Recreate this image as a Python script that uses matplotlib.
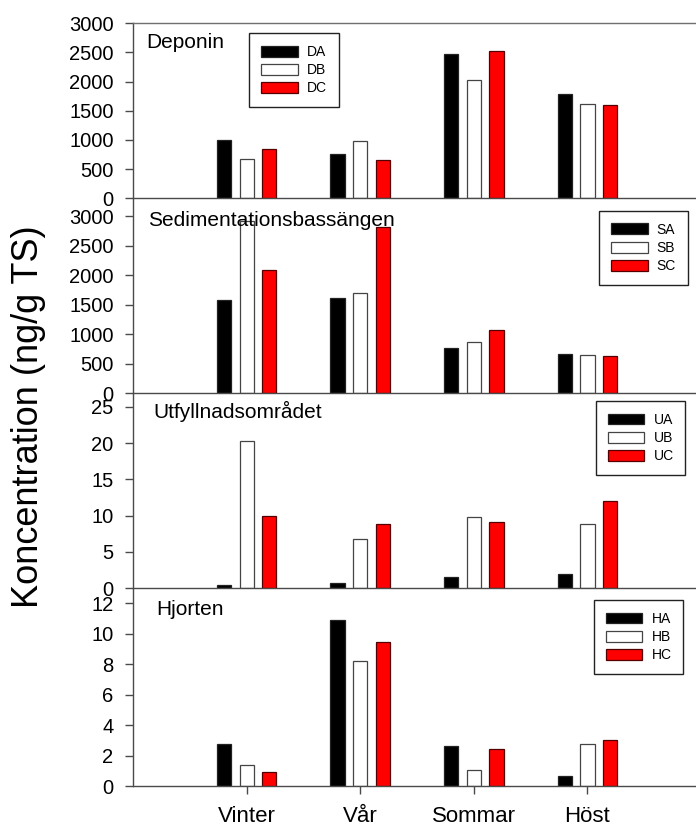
import matplotlib
matplotlib.use('Agg')
import matplotlib.pyplot as plt
import numpy as np

plt.rcParams['font.family'] = ['Liberation Sans', 'DejaVu Sans']

seasons = ['Vinter', 'Vår', 'Sommar', 'Höst']

deponin_labels = ['DA', 'DB', 'DC']
deponin_A = [1000, 766, 2474, 1789]
deponin_B = [669, 977, 2023, 1617]
deponin_C = [846, 651, 2526, 1606]

sediment_labels = ['SA', 'SB', 'SC']
sediment_A = [1579, 1619, 767, 660]
sediment_B = [2921, 1692, 869, 654]
sediment_C = [2087, 2809, 1066, 626]

utfyll_labels = ['UA', 'UB', 'UC']
utfyll_A = [0.5, 0.73, 1.56, 1.97]
utfyll_B = [20.3, 6.74, 9.77, 8.8]
utfyll_C = [10.0, 8.8, 9.17, 11.97]

hjorten_labels = ['HA', 'HB', 'HC']
hjorten_A = [2.77, 10.87, 2.62, 0.68]
hjorten_B = [1.35, 8.23, 1.03, 2.73]
hjorten_C = [0.89, 9.43, 2.4, 2.99]

titles = ['Deponin', 'Sedimentationsbassängen', 'Utfyllnadsområdet', 'Hjorten']
ylabel = 'Koncentration (ng/g TS)'

W, H = 696, 827
fig = plt.figure(figsize=(W / 100, H / 100), dpi=100)

# pixel layout (top, bottom) of each panel
panels_px = [(23.3, 198.3), (198.3, 393.3), (393.3, 588.3), (588.3, 786.0)]
ylims = [(0, 3000), (0, 3300), (0, 26.85), (0, 12.97)]
yticks = [np.arange(0, 3001, 500), np.arange(0, 3001, 500),
          np.arange(0, 26, 5), np.arange(0, 13, 2)]
title_pos = [(146.7, 48.3), (148.0, 226.0), (153.3, 418.3), (156.5, 615.0)]
legend_pos = [(249.3, 33.3), (599.3, 211.0), (596.0, 401.0), (594.0, 600.0)]

data = [
    (deponin_labels, [deponin_A, deponin_B, deponin_C]),
    (sediment_labels, [sediment_A, sediment_B, sediment_C]),
    (utfyll_labels, [utfyll_A, utfyll_B, utfyll_C]),
    (hjorten_labels, [hjorten_A, hjorten_B, hjorten_C]),
]

face = ['#000000', '#ffffff', '#ff0000']
edge = ['#222222', '#444444', '#550000']
left_px = 133.0
unit_px = 113.6
x = np.arange(1, len(seasons) + 1)
width = 0.125
offs = [-0.2, 0.0, 0.2]
spine_col = '#4a4a4a'

for i, ((top, bot), (labels, series)) in enumerate(zip(panels_px, data)):
    ax = fig.add_axes([left_px / W, 1 - bot / H, 5 * unit_px / W, (bot - top) / H])
    for j, vals in enumerate(series):
        ax.bar(x + offs[j], vals, width, color=face[j], edgecolor=edge[j],
               linewidth=0.9, label=labels[j], zorder=2)
    ax.set_xlim(0, 5)
    ax.set_ylim(*ylims[i])
    ax.set_yticks(yticks[i])
    ax.tick_params(axis='y', direction='out', length=6, width=1, color=spine_col,
                   labelsize=14.5, pad=8)
    ax.spines['right'].set_visible(False)
    if i == 0:
        ax.spines['top'].set_color('#707070')
        ax.spines['top'].set_linewidth(1)
    else:
        ax.spines['top'].set_visible(False)
    ax.spines['left'].set_color(spine_col)
    ax.spines['bottom'].set_color(spine_col)
    ax.spines['left'].set_linewidth(1)
    ax.spines['bottom'].set_linewidth(1)
    ax.patch.set_alpha(0)
    if i == 3:
        ax.set_xticks(x)
        ax.set_xticklabels(seasons)
        ax.tick_params(axis='x', direction='out', length=6, width=1, color=spine_col,
                       labelsize=16, pad=8.5)
    else:
        ax.set_xticks([])
    tx, ty = title_pos[i]
    fig.text(tx / W, 1 - ty / H, titles[i], fontsize=15, va='baseline', ha='left')
    lx, ly = legend_pos[i]
    leg = ax.legend(loc='upper left', bbox_to_anchor=(lx / W, 1 - ly / H),
                    bbox_transform=fig.transFigure, borderaxespad=0,
                    fontsize=10, handlelength=2.64, handleheight=0.84,
                    handletextpad=0.65, labelspacing=0.3, borderpad=0.85,
                    fancybox=False, framealpha=1, edgecolor='#222222')
    leg.get_frame().set_linewidth(1)

fig.text(29 / W, 1 - 417 / H, ylabel, rotation=90, fontsize=26,
         ha='center', va='center')

fig.savefig('out.png', dpi=100)
